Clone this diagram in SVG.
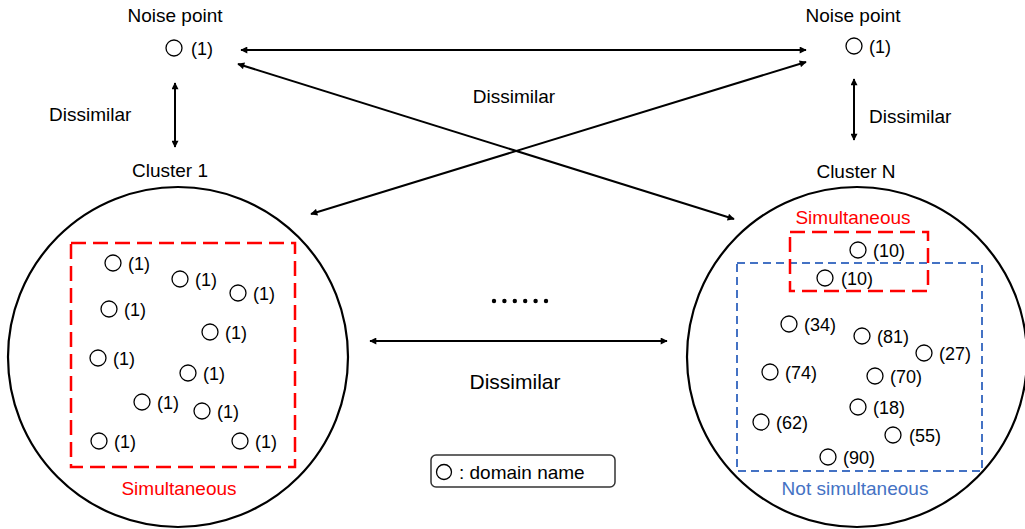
<svg xmlns="http://www.w3.org/2000/svg" width="1025" height="529" viewBox="0 0 1025 529">
<style>
text{font-family:"Liberation Sans",Arial,sans-serif;fill:#000}
.t{font-size:19px}
.n{font-size:18px}
.c{text-anchor:middle}
.dot{fill:#fff;stroke:#000;stroke-width:1.3}
.big{fill:none;stroke:#000;stroke-width:2.2}
.red{fill:none;stroke:#ff0000;stroke-width:2.5;stroke-dasharray:15 7}
.blue{fill:none;stroke:#4472c4;stroke-width:2;stroke-dasharray:8 5}
.arr{fill:none;stroke:#000;stroke-width:2;marker-start:url(#ah);marker-end:url(#ah)}
</style>
<defs>
<marker id="ah" viewBox="0 0 10 10" refX="9" refY="5" markerWidth="9" markerHeight="7" markerUnits="userSpaceOnUse" orient="auto-start-reverse">
<path d="M0,0 L10,5 L0,10 z" fill="#000"/>
</marker>
</defs>

<g id="noise-left">
<text class="t c" x="175" y="22">Noise point</text>
<circle class="dot" cx="174" cy="48" r="8"/>
<text class="n" x="191" y="55">(1)</text>
</g>

<g id="noise-right">
<text class="t c" x="853" y="22">Noise point</text>
<circle class="dot" cx="854" cy="46" r="8"/>
<text class="n" x="869" y="53">(1)</text>
</g>

<g id="cluster-1">
<text class="t c" x="170" y="177">Cluster 1</text>
<circle class="big" cx="178" cy="357" r="170"/>
<rect class="red" x="71" y="243" width="224" height="224"/>
<text class="t c" x="179" y="495" style="fill:#ff0000">Simultaneous</text>
<circle class="dot" cx="113" cy="263" r="8"/><text class="n" x="128" y="270">(1)</text>
<circle class="dot" cx="180" cy="279" r="8"/><text class="n" x="195" y="286">(1)</text>
<circle class="dot" cx="238" cy="293" r="8"/><text class="n" x="253" y="300">(1)</text>
<circle class="dot" cx="109" cy="309" r="8"/><text class="n" x="124" y="316">(1)</text>
<circle class="dot" cx="210" cy="332" r="8"/><text class="n" x="225" y="339">(1)</text>
<circle class="dot" cx="98" cy="358" r="8"/><text class="n" x="113" y="365">(1)</text>
<circle class="dot" cx="188" cy="373" r="8"/><text class="n" x="203" y="380">(1)</text>
<circle class="dot" cx="142" cy="402" r="8"/><text class="n" x="157" y="409">(1)</text>
<circle class="dot" cx="202" cy="411" r="8"/><text class="n" x="217" y="418">(1)</text>
<circle class="dot" cx="99" cy="441" r="8"/><text class="n" x="114" y="448">(1)</text>
<circle class="dot" cx="240" cy="441" r="8"/><text class="n" x="255" y="448">(1)</text>
</g>

<g id="cluster-n">
<text class="t c" x="856" y="178">Cluster N</text>
<circle class="big" cx="857" cy="357" r="170"/>
<rect class="blue" x="737" y="263" width="245" height="208"/>
<rect class="red" x="790" y="232" width="138" height="59"/>
<text class="t c" x="853" y="224" style="fill:#ff0000">Simultaneous</text>
<text class="t c" x="855" y="495" style="fill:#4472c4">Not simultaneous</text>
<circle class="dot" cx="858" cy="250" r="8"/><text class="n" x="873" y="257">(10)</text>
<circle class="dot" cx="825" cy="278" r="8"/><text class="n" x="841" y="285">(10)</text>
<circle class="dot" cx="789" cy="324" r="8"/><text class="n" x="804" y="331">(34)</text>
<circle class="dot" cx="862" cy="336" r="8"/><text class="n" x="877" y="343">(81)</text>
<circle class="dot" cx="924" cy="353" r="8"/><text class="n" x="939" y="360">(27)</text>
<circle class="dot" cx="770" cy="372" r="8"/><text class="n" x="785" y="379">(74)</text>
<circle class="dot" cx="875" cy="376" r="8"/><text class="n" x="890" y="383">(70)</text>
<circle class="dot" cx="858" cy="407" r="8"/><text class="n" x="873" y="414">(18)</text>
<circle class="dot" cx="761" cy="422" r="8"/><text class="n" x="776" y="429">(62)</text>
<circle class="dot" cx="893" cy="435" r="8"/><text class="n" x="909" y="442">(55)</text>
<circle class="dot" cx="828" cy="457" r="8"/><text class="n" x="843" y="464">(90)</text>
</g>

<g id="ellipsis">
<circle cx="494" cy="301" r="2.2"/>
<circle cx="504.4" cy="301" r="2.2"/>
<circle cx="514.8" cy="301" r="2.2"/>
<circle cx="525.2" cy="301" r="2.2"/>
<circle cx="535.6" cy="301" r="2.2"/>
<circle cx="546" cy="301" r="2.2"/>
</g>

<g id="legend">
<rect x="431" y="455" width="184" height="32" rx="5" fill="#fff" stroke="#333" stroke-width="1.5"/>
<circle class="dot" cx="444" cy="472" r="7.5"/>
<text class="t" x="459" y="479">: domain name</text>
</g>

<g id="connectors">
<path class="arr" d="M241,50 L806,50"/>
<path class="arr" d="M238,64 L734,219"/>
<path class="arr" d="M311,214 L806,62"/>
<path class="arr" d="M175,83 L175,147"/>
<path class="arr" d="M854,79 L854,140"/>
<path class="arr" d="M370,341 L667,341"/>
<text class="t" x="49" y="121">Dissimilar</text>
<text class="t" x="869" y="123">Dissimilar</text>
<text class="t c" x="514" y="103">Dissimilar</text>
<text class="c" x="515" y="389" style="font-size:21px">Dissimilar</text>
</g>
</svg>
